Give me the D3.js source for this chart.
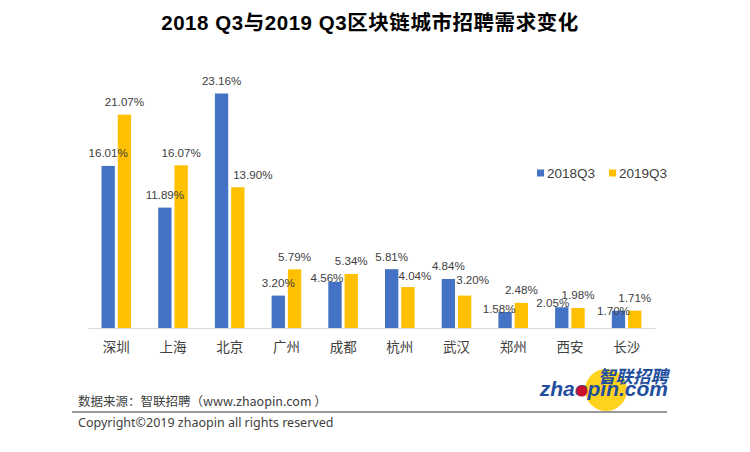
<!DOCTYPE html>
<html>
<head>
<meta charset="utf-8">
<script src="https://cdn.jsdelivr.net/npm/d3@7"></script>
<style>
  body { margin: 0; background: #fff; }
  text { font-family: "Liberation Sans", "Noto Sans CJK SC", sans-serif; }
</style>
</head>
<body>
<svg id="chart" width="750" height="452"></svg>
<script>
var cities = ["深圳", "上海", "北京", "广州", "成都", "杭州", "武汉", "郑州", "西安", "长沙"];
var seriesNames = ["2018Q3", "2019Q3"];
var values2018 = [16.01, 11.89, 23.16, 3.20, 4.56, 5.81, 4.84, 1.58, 2.05, 1.70];
var values2019 = [21.07, 16.07, 13.90, 5.79, 5.34, 4.04, 3.20, 2.48, 1.98, 1.71];

// labels the original nudged by hand so they sit next to their bar
var nudge2018 = { 4: [-8, 9], 7: [-6, 9], 8: [-9, 8], 9: [-5, 13] };
var nudge2019 = { 2: [15, 0], 5: [7, 1.5], 6: [8, -3.5] };

var colors = ["#4472C4", "#FFC000"];
var svg = d3.select("#chart");

var x = d3.scaleBand().domain(cities).range([88, 655]);
var xInner = d3.scaleBand().domain(seriesNames).range([13.5, 43.1]).paddingInner(0.18);
var y = d3.scaleLinear().domain([0, 23.16]).range([328, 93.5]);

svg.append("text")
  .attr("x", 370).attr("y", 30)
  .attr("text-anchor", "middle")
  .attr("font-size", 20.5).attr("font-weight", "bold")
  .attr("fill", "#000")
  .style("letter-spacing", "0.55px")
  .text("2018 Q3与2019 Q3区块链城市招聘需求变化");

// bars first, labels after so they stay on top of the neighbouring bar
var barLayer = svg.append("g");
var labelLayer = svg.append("g");

[values2018, values2019].forEach(function(vals, s) {
  var name = seriesNames[s];
  var nudge = s == 0 ? nudge2018 : nudge2019;

  barLayer.append("g").selectAll("rect")
    .data(vals)
    .enter()
    .append("rect")
    .attr("x", function(d, i) { return x(cities[i]) + xInner(name); })
    .attr("y", function(d) { return y(d); })
    .attr("width", xInner.bandwidth())
    .attr("height", function(d) { return y(0) - y(d); })
    .attr("fill", colors[s]);

  labelLayer.append("g").selectAll("text")
    .data(vals)
    .enter()
    .append("text")
    .attr("x", function(d, i) {
      var n = nudge[i] || [0, 0];
      return x(cities[i]) + xInner(name) + xInner.bandwidth() / 2 + n[0];
    })
    .attr("y", function(d, i) {
      var n = nudge[i] || [0, 0];
      return y(d) - 8.5 + n[1];
    })
    .attr("text-anchor", "middle")
    .attr("font-size", 11.6)
    .attr("fill", "#404040")
    .text(function(d) { return d.toFixed(2) + "%"; });
});

// x axis
var xAxis = svg.append("g")
  .attr("transform", "translate(0,328)")
  .call(d3.axisBottom(x).tickSize(0).tickPadding(14));
xAxis.select(".domain").attr("stroke", "#D9D9D9");
xAxis.selectAll("text")
  .attr("font-size", 13.5)
  .attr("fill", "#404040")
  .style("font-family", '"Noto Sans CJK SC", sans-serif');

// legend
var legendX = d3.scaleOrdinal().domain(seriesNames).range([537, 609]);
var legend = svg.append("g").selectAll("g")
  .data(seriesNames)
  .enter()
  .append("g")
  .attr("transform", function(d) { return "translate(" + legendX(d) + ",173)"; });
legend.append("rect")
  .attr("y", -3.5).attr("width", 7).attr("height", 7)
  .attr("fill", function(d, i) { return colors[i]; });
legend.append("text")
  .attr("x", 10).attr("y", 5)
  .attr("font-size", 13.5)
  .attr("fill", "#404040")
  .text(function(d) { return d; });

// footer
svg.append("text")
  .attr("x", 78).attr("y", 406)
  .attr("font-size", 12.5).attr("fill", "#404040")
  .style("font-family", '"Noto Sans CJK SC", sans-serif')
  .text("数据来源：智联招聘（www.zhaopin.com ）");
svg.append("line")
  .attr("x1", 72).attr("x2", 667).attr("y1", 412).attr("y2", 412)
  .attr("stroke", "#333");
svg.append("text")
  .attr("x", 78).attr("y", 427)
  .attr("font-size", 12.5).attr("fill", "#404040")
  .style("font-family", '"Noto Sans", sans-serif')
  .text("Copyright©2019 zhaopin all rights reserved");

// logo
var logo = svg.append("g");
logo.append("circle").attr("cx", 606).attr("cy", 390).attr("r", 21).attr("fill", "#FFD21F");
logo.append("text")
  .attr("x", 668).attr("y", 383).attr("text-anchor", "end")
  .attr("font-size", 17.5).attr("font-weight", "bold").attr("font-style", "italic").attr("fill", "#1F4E9E")
  .style("font-family", '"Noto Sans CJK SC", sans-serif')
  .text("智联招聘");
logo.append("text")
  .attr("x", 668).attr("y", 396).attr("text-anchor", "end")
  .attr("font-size", 21).attr("font-weight", "bold").attr("font-style", "italic").attr("fill", "#1F4E9E")
  .text("zhaopin.com");
logo.append("circle").attr("cx", 582).attr("cy", 391).attr("r", 5.5).attr("fill", "#C8102E");
</script>
</body>
</html>
